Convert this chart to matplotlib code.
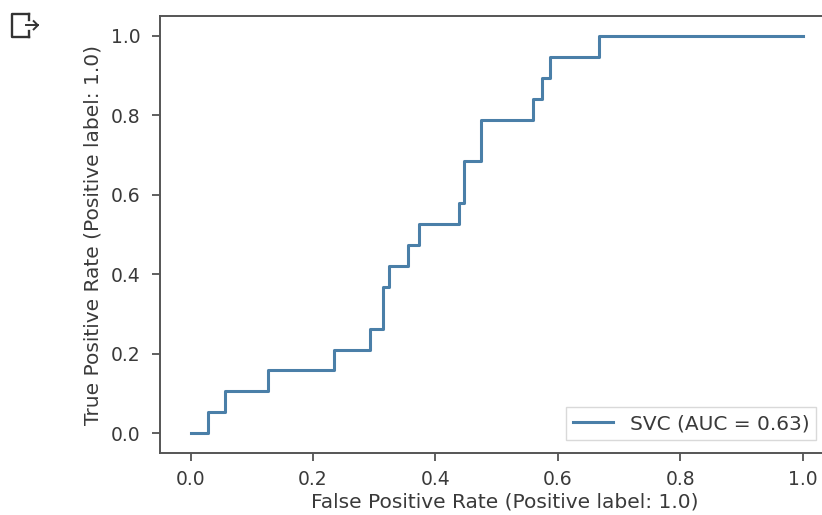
import matplotlib
matplotlib.use("Agg")
import matplotlib.pyplot as plt
from matplotlib.lines import Line2D

fpr = [0.0, 0.028, 0.028, 0.056, 0.056, 0.126, 0.126, 0.234, 0.234, 0.294, 0.294,
       0.314, 0.314, 0.324, 0.324, 0.355, 0.355, 0.373, 0.373, 0.438, 0.438,
       0.446, 0.446, 0.475, 0.475, 0.559, 0.559, 0.575, 0.575, 0.588, 0.588,
       0.668, 0.668, 1.0]
tpr = [0.0, 0.0, 0.0526, 0.0526, 0.1053, 0.1053, 0.1579, 0.1579, 0.2105, 0.2105, 0.2632,
       0.2632, 0.3684, 0.3684, 0.4211, 0.4211, 0.4737, 0.4737, 0.5263, 0.5263, 0.5789,
       0.5789, 0.6842, 0.6842, 0.7895, 0.7895, 0.8421, 0.8421, 0.8947, 0.8947, 0.9474,
       0.9474, 1.0, 1.0]
label = "SVC (AUC = 0.63)"
xlabel = "False Positive Rate (Positive label: 1.0)"
ylabel = "True Positive Rate (Positive label: 1.0)"
ticks = [0.0, 0.2, 0.4, 0.6, 0.8, 1.0]

plt.rcParams['font.family'] = ['DejaVu Sans']
fig = plt.figure(figsize=(8.22, 5.15), dpi=100)
ax = fig.add_axes([0.1946, 0.1204, 0.84, 0.8485])
ax.plot(fpr, tpr, color='#4a7fa8', lw=2.2, label=label)
ax.set_xlim(-0.05, -0.05 + 1.1 * 0.84 / 0.819)
ax.set_ylim(-0.05, 1.05)
ax.set_xticks(ticks)
ax.set_yticks(ticks)
ax.set_xticklabels([f"{t:.1f}" for t in ticks])
ax.set_yticklabels([f"{t:.1f}" for t in ticks])
ax.tick_params(labelsize=13.5, length=6, width=1.2, color='#444444', labelcolor='#3a3a3a')
ax.tick_params(axis='y', pad=8)
ax.tick_params(axis='x', pad=6)
for s in ax.spines.values():
    s.set_color('#555555')
    s.set_linewidth(1.4)
ax.spines['right'].set_visible(False)
ax.set_xlabel(xlabel, fontsize=14.5, color='#3a3a3a', labelpad=3)
ax.set_ylabel(ylabel, fontsize=14.5, color='#3a3a3a', labelpad=6)
leg = ax.legend(loc='lower right', fontsize=14.5, frameon=True, fancybox=False,
                edgecolor='#d0d0d0', handlelength=2.0, borderpad=0.35,
                bbox_to_anchor=(0.965, 0.006))
for t in leg.get_texts():
    t.set_color('#3a3a3a')

# Colab output icon (decoration)
c = '#333333'
tf = fig.transFigure
fig.add_artist(Line2D([0.0355, 0.015, 0.015, 0.0355], [0.972, 0.972, 0.929, 0.929], transform=tf, color=c, lw=1.7))
fig.add_artist(Line2D([0.0355, 0.0355], [0.972, 0.962], transform=tf, color=c, lw=1.7))
fig.add_artist(Line2D([0.0355, 0.0355], [0.929, 0.939], transform=tf, color=c, lw=1.7))
fig.add_artist(Line2D([0.032, 0.046], [0.951, 0.951], transform=tf, color=c, lw=1.4))
fig.add_artist(Line2D([0.041, 0.046, 0.041], [0.959, 0.951, 0.943], transform=tf, color=c, lw=1.4))

fig.savefig("out.png", dpi=100)
